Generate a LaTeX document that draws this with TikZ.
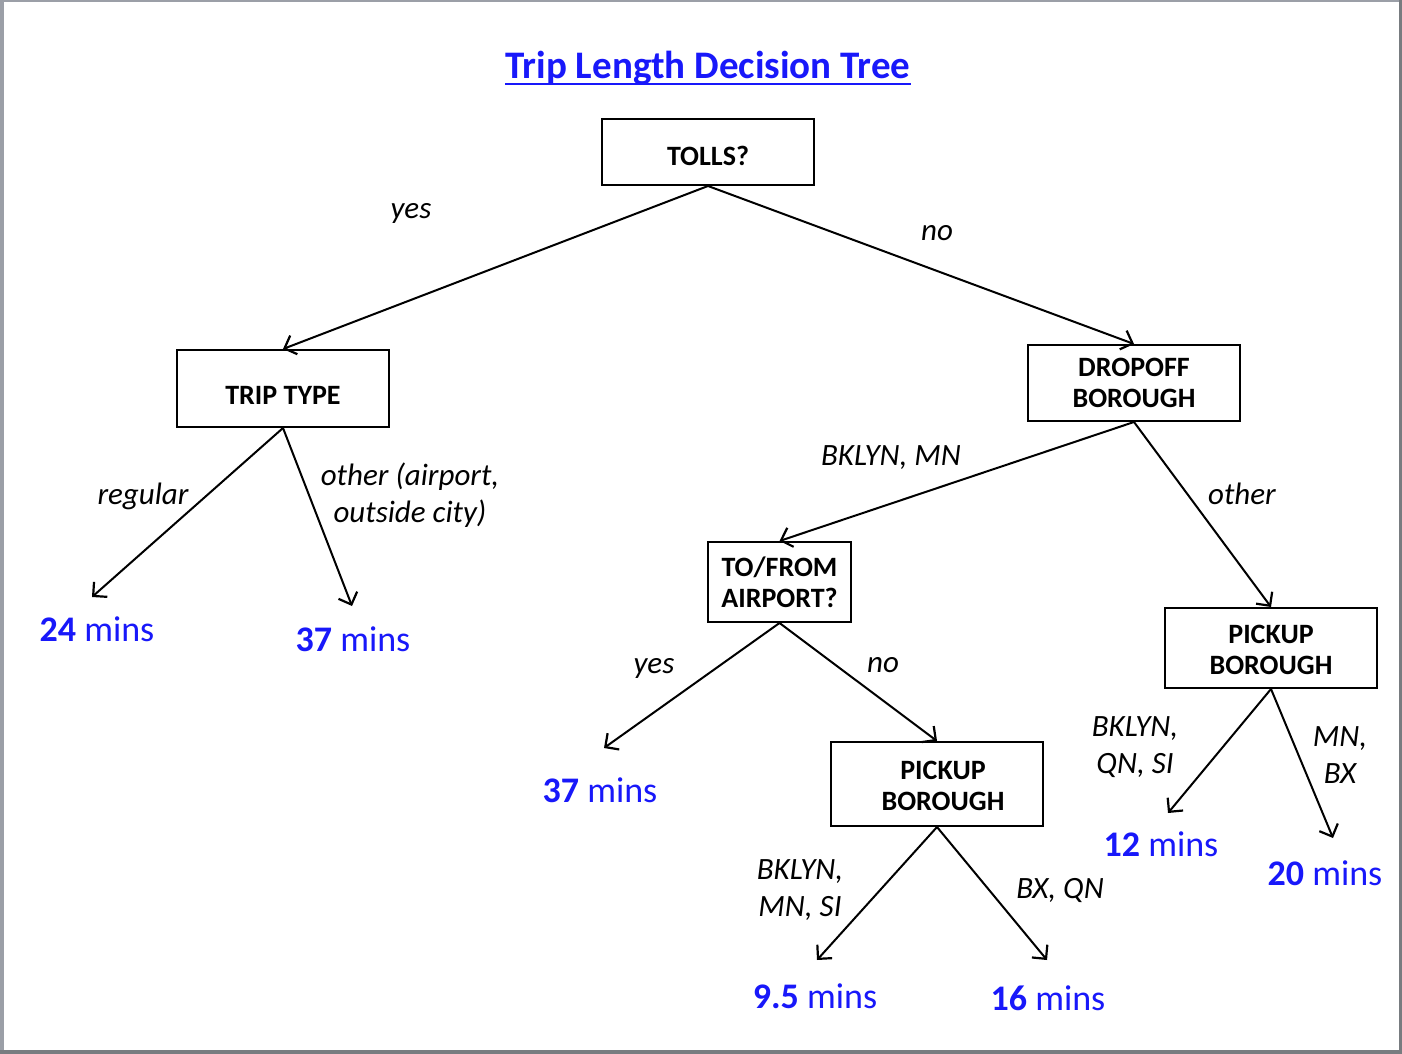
\documentclass[tikz,border=0pt]{standalone}
\usepackage{fontspec}
\setmainfont{Carlito}
\usetikzlibrary{arrows.meta}
\definecolor{tblue}{RGB}{24,24,250}
\definecolor{frameL}{RGB}{155,159,167}
\definecolor{frameR}{RGB}{120,124,128}
\begin{document}
\begin{tikzpicture}[x=0.5pt,y=-0.5pt,
  box/.style={draw,line width=1pt,inner sep=0pt,align=center,font=\fontsize{14}{15.5}\selectfont\bfseries},
  lbl/.style={align=center,font=\fontsize{15.5}{18.5}\selectfont\itshape},
  leaf/.style={text=tblue,font=\fontsize{18}{20}\selectfont},
  conn/.style={line width=1pt,-{Straight Barb[length=5pt,width=10pt,line width=1.1pt]}}]
\useasboundingbox (0,0) rectangle (1402,1054);
\fill[white] (0,0) rectangle (1402,1054);
\fill[frameL] (0,0) rectangle (4,1054);
\fill[frameL] (0,0) rectangle (1402,2);
\fill[frameR] (1399,0) rectangle (1402,1054);
\fill[frameR] (0,1050) rectangle (1402,1054);

\node[text=tblue,inner sep=0pt,font=\fontsize{19.5}{21}\selectfont\bfseries] (title) at (708,68) {Trip Length Decision Tree};
\draw[tblue,line width=1pt] ([yshift=-3pt]title.base west) -- ([yshift=-3pt]title.base east);

\node[box,minimum width=106pt,minimum height=33pt] (tolls) at (708,152) {\raisebox{-2pt}[\height][\depth]{TOLLS?}};
\node[box,minimum width=106pt,minimum height=38.5pt] (trip) at (283,388.5) {\raisebox{-3.5pt}[\height][\depth]{TRIP TYPE}};
\node[box,minimum width=106pt,minimum height=38pt] (drop) at (1134,383) {DROPOFF\\BOROUGH};
\node[box,minimum width=71.5pt,minimum height=40pt] (air) at (779.5,582) {TO/FROM\\AIRPORT?};
\node[box,minimum width=106pt,minimum height=40pt] (pickR) at (1271,648) {\raisebox{-1pt}[\height][\depth]{PICKUP}\\\raisebox{-1pt}[\height][\depth]{BOROUGH}};
\node[box,minimum width=106pt,minimum height=42pt] (pickL) at (937,784) {\hspace*{6pt}\raisebox{-1.2pt}[\height][\depth]{PICKUP}\\\hspace*{6pt}\raisebox{-1.2pt}[\height][\depth]{BOROUGH}};

\node[leaf] (l24) at (97,629) {\textbf{24} mins};
\node[leaf] (l37a) at (353,639) {\textbf{37} mins};
\node[leaf] (l37b) at (600,790) {\textbf{37} mins};
\node[leaf] (l95) at (815,996) {\textbf{9.5} mins};
\node[leaf] (l16) at (1048,998) {\textbf{16} mins};
\node[leaf] (l12) at (1161,844) {\textbf{12} mins};
\node[leaf] (l20) at (1325,873) {\textbf{20} mins};

\coordinate (e24) at (92,597);
\coordinate (e37a) at (352,606);
\coordinate (e37b) at (604,748);
\coordinate (e95) at (817,960);
\coordinate (e16) at (1047,960);
\coordinate (e12) at (1168,813);
\coordinate (e20) at (1333,838);

\draw[conn] (tolls.south) -- (trip.north);
\draw[conn] (tolls.south) -- (drop.north);
\draw[conn] (trip.south) -- (e24);
\draw[conn] (trip.south) -- (e37a);
\draw[conn] (drop.south) -- (air.north);
\draw[conn] (drop.south) -- (pickR.north);
\draw[conn] (air.south) -- (e37b);
\draw[conn] (air.south) -- (pickL.north);
\draw[conn] (pickR.south) -- (e12);
\draw[conn] (pickR.south) -- (e20);
\draw[conn] (pickL.south) -- (e95);
\draw[conn] (pickL.south) -- (e16);

\node[lbl] (t1) at (411,213) {yes};
\node[lbl] (t2) at (937,233) {no};
\node[lbl] (t3) at (143,496) {regular};
\node[lbl] (t4) at (410,495) {other (airport,\\outside city)};
\node[lbl] (t5) at (891,458) {BKLYN, MN};
\node[lbl] (t6) at (1242,494) {other};
\node[lbl] (t7) at (654,668) {yes};
\node[lbl] (t8) at (883,665) {no};
\node[lbl] (t9) at (1135,747) {BKLYN,\\QN, SI};
\node[lbl] (t10) at (1340,755) {MN,\\BX};
\node[lbl] (t11) at (800,890) {BKLYN,\\MN, SI};
\node[lbl] (t12) at (1060,890) {BX, QN};
\end{tikzpicture}
\end{document}
